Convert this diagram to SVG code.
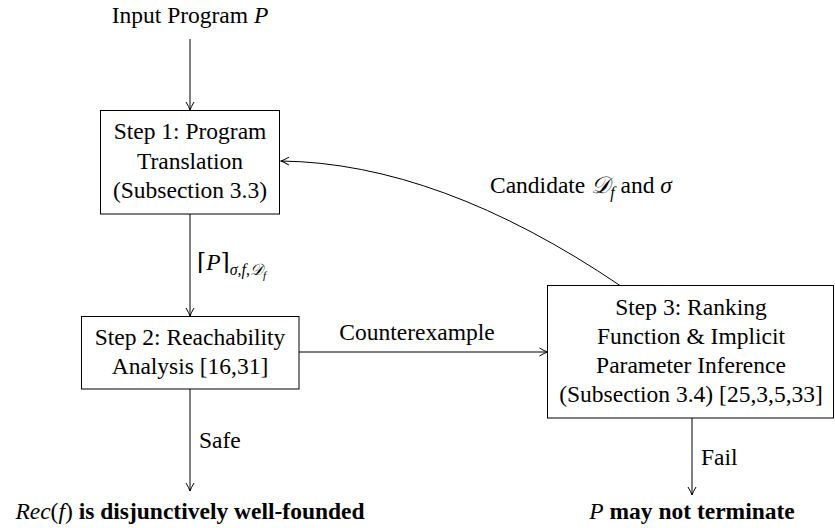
<svg xmlns="http://www.w3.org/2000/svg" width="835" height="528" viewBox="0 0 835 528">
<defs>
<marker id="arr" markerUnits="userSpaceOnUse" markerWidth="12" markerHeight="12" viewBox="-10 -6 12 12" refX="0" refY="0" orient="auto">
<path d="M-8,-4 Q-3,-1 0,0 Q-3,1 -8,4" fill="none" stroke="#000" stroke-width="1"/>
</marker>
</defs>
<style>
text{font-family:"Liberation Serif","DejaVu Serif",serif;font-size:23.5px;fill:#000}
.c{text-anchor:middle}
.i{font-style:italic}
.b{font-weight:bold}
.s{font-size:16px}
rect{fill:#fff;stroke:#000;stroke-width:1}
.e{fill:none;stroke:#000;stroke-width:1;marker-end:url(#arr)}
</style>
<g id="connectors">
<path class="e" d="M190,39 L190,110"/>
<path class="e" d="M190,214 L190,316"/>
<path class="e" d="M299,352 L547.5,352"/>
<path class="e" d="M620,285.5 Q439,163 281,161"/>
<path class="e" d="M190,389 L190,491"/>
<path class="e" d="M692,418 L692,495"/>
<text x="197" y="270">⌈<tspan class="i">P</tspan>⌉<tspan class="s i" dy="5">σ</tspan><tspan class="s">,</tspan><tspan class="s i">f</tspan><tspan class="s">,</tspan><tspan class="s i">𝒟</tspan><tspan class="i" font-size="11" dy="4">f</tspan></text>
<text x="490" y="193">Candidate <tspan class="i">𝒟</tspan><tspan class="i s" dy="5">f</tspan><tspan dy="-5"> and </tspan><tspan class="i">σ</tspan></text>
<text class="c" x="417" y="340">Counterexample</text>
<text x="199" y="448">Safe</text>
<text x="701" y="465">Fail</text>
</g>
<g id="input">
<text class="c" x="190" y="23">Input Program <tspan class="i">P</tspan></text>
</g>
<g id="step1">
<rect x="100.5" y="110.5" width="179" height="103.5"/>
<text class="c" x="190" y="139">Step 1: Program</text>
<text class="c" x="190" y="169">Translation</text>
<text class="c" x="190" y="198">(Subsection 3.3)</text>
</g>
<g id="step2">
<rect x="81.5" y="316.5" width="217.5" height="72.5"/>
<text class="c" x="190" y="345">Step 2: Reachability</text>
<text class="c" x="190" y="374">Analysis [16,31]</text>
</g>
<g id="step3">
<rect x="547.5" y="285.5" width="286" height="132.5"/>
<text class="c" x="691" y="315">Step 3: Ranking</text>
<text class="c" x="691" y="344">Function &amp; Implicit</text>
<text class="c" x="691" y="373">Parameter Inference</text>
<text class="c" x="691" y="402">(Subsection 3.4) [25,3,5,33]</text>
</g>
<g id="safe-result">
<text class="c" x="190" y="519"><tspan class="i">Rec</tspan>(<tspan class="i">f</tspan>) <tspan class="b">is disjunctively well-founded</tspan></text>
</g>
<g id="fail-result">
<text class="c" x="692" y="519"><tspan class="i">P</tspan> <tspan class="b">may not terminate</tspan></text>
</g>
</svg>
